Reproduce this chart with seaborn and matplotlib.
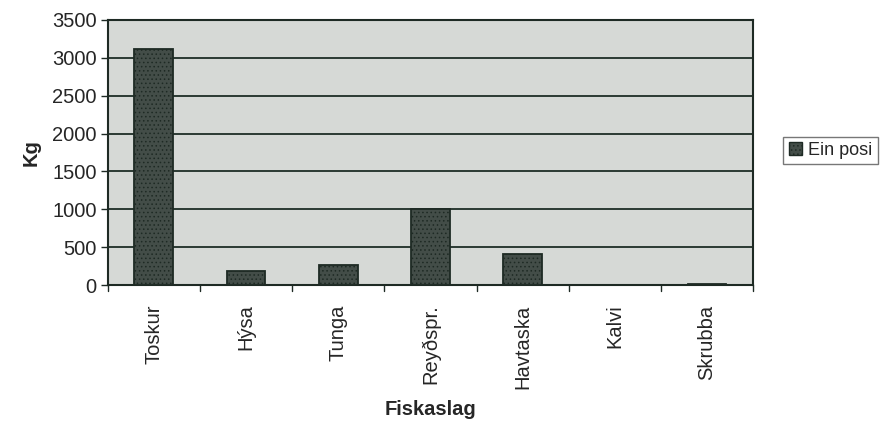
import matplotlib.pyplot as plt
import pandas as pd
import seaborn as sns
from matplotlib.patches import Patch

categories = ["Toskur", "Hýsa", "Tunga", "Reyðspr.", "Havtaska", "Kalvi", "Skrubba"]
kg = [3120, 190, 270, 1010, 410, 5, 15]
series_name = "Ein posi"

df = pd.DataFrame({"Fiskaslag": categories, "Kg": kg})

sns.set_style("white")
plt.rcParams["font.family"] = ["Liberation Sans", "DejaVu Sans"]
plt.rcParams["hatch.color"] = "#8e9993"
plt.rcParams["hatch.linewidth"] = 0.6

fig = plt.figure(figsize=(8.83, 4.23), dpi=100)
ax = fig.add_axes([0.122, 0.326, 0.731, 0.627])
ax.set_facecolor("#d6d9d6")

sns.barplot(data=df, x="Fiskaslag", y="Kg", color="#434d48", width=0.42,
            edgecolor="#1e2a24", linewidth=1.3, saturation=1, ax=ax, zorder=3)
for bar in ax.patches:
    bar.set_hatch("....")

ax.set_ylim(0, 3500)
ax.set_yticks(range(0, 3501, 500))
ax.yaxis.grid(True, color="#1e2e26", linewidth=1.3, zorder=1)
ax.set_axisbelow(True)
ax.set_xlim(-0.5, len(categories) - 0.5)

ax.set_xticks(range(len(categories)))
ax.set_xticklabels(categories, rotation=90, fontsize=14.5)
ax.tick_params(axis="x", length=0, pad=14)
# boundary ticks between categories, below the axis
for b in range(len(categories) + 1):
    ax.plot([b - 0.5, b - 0.5], [0, -75], color="#1e2a24", linewidth=1,
            clip_on=False, zorder=4)
ax.tick_params(axis="y", length=5, width=1, color="#1e2a24", labelsize=14.5,
               left=True, pad=3)

for side in ["left", "right", "top", "bottom"]:
    ax.spines[side].set_color("#1e2a24")
    ax.spines[side].set_linewidth(1.5)

ax.set_xlabel("Fiskaslag", fontsize=14.5, fontweight="bold", labelpad=8)
ax.set_ylabel("Kg", fontsize=14.5, fontweight="bold", labelpad=8)

handle = Patch(facecolor="#434d48", edgecolor="#1e2a24", hatch="....")
fig.legend([handle], [series_name], loc="upper left", bbox_to_anchor=(0.887, 0.677),
           borderaxespad=0, fontsize=13, frameon=True, fancybox=False,
           edgecolor="#555555", handlelength=0.75, handleheight=0.75,
           handletextpad=0.35, borderpad=0.3)

fig.savefig("out.png", dpi=100)
